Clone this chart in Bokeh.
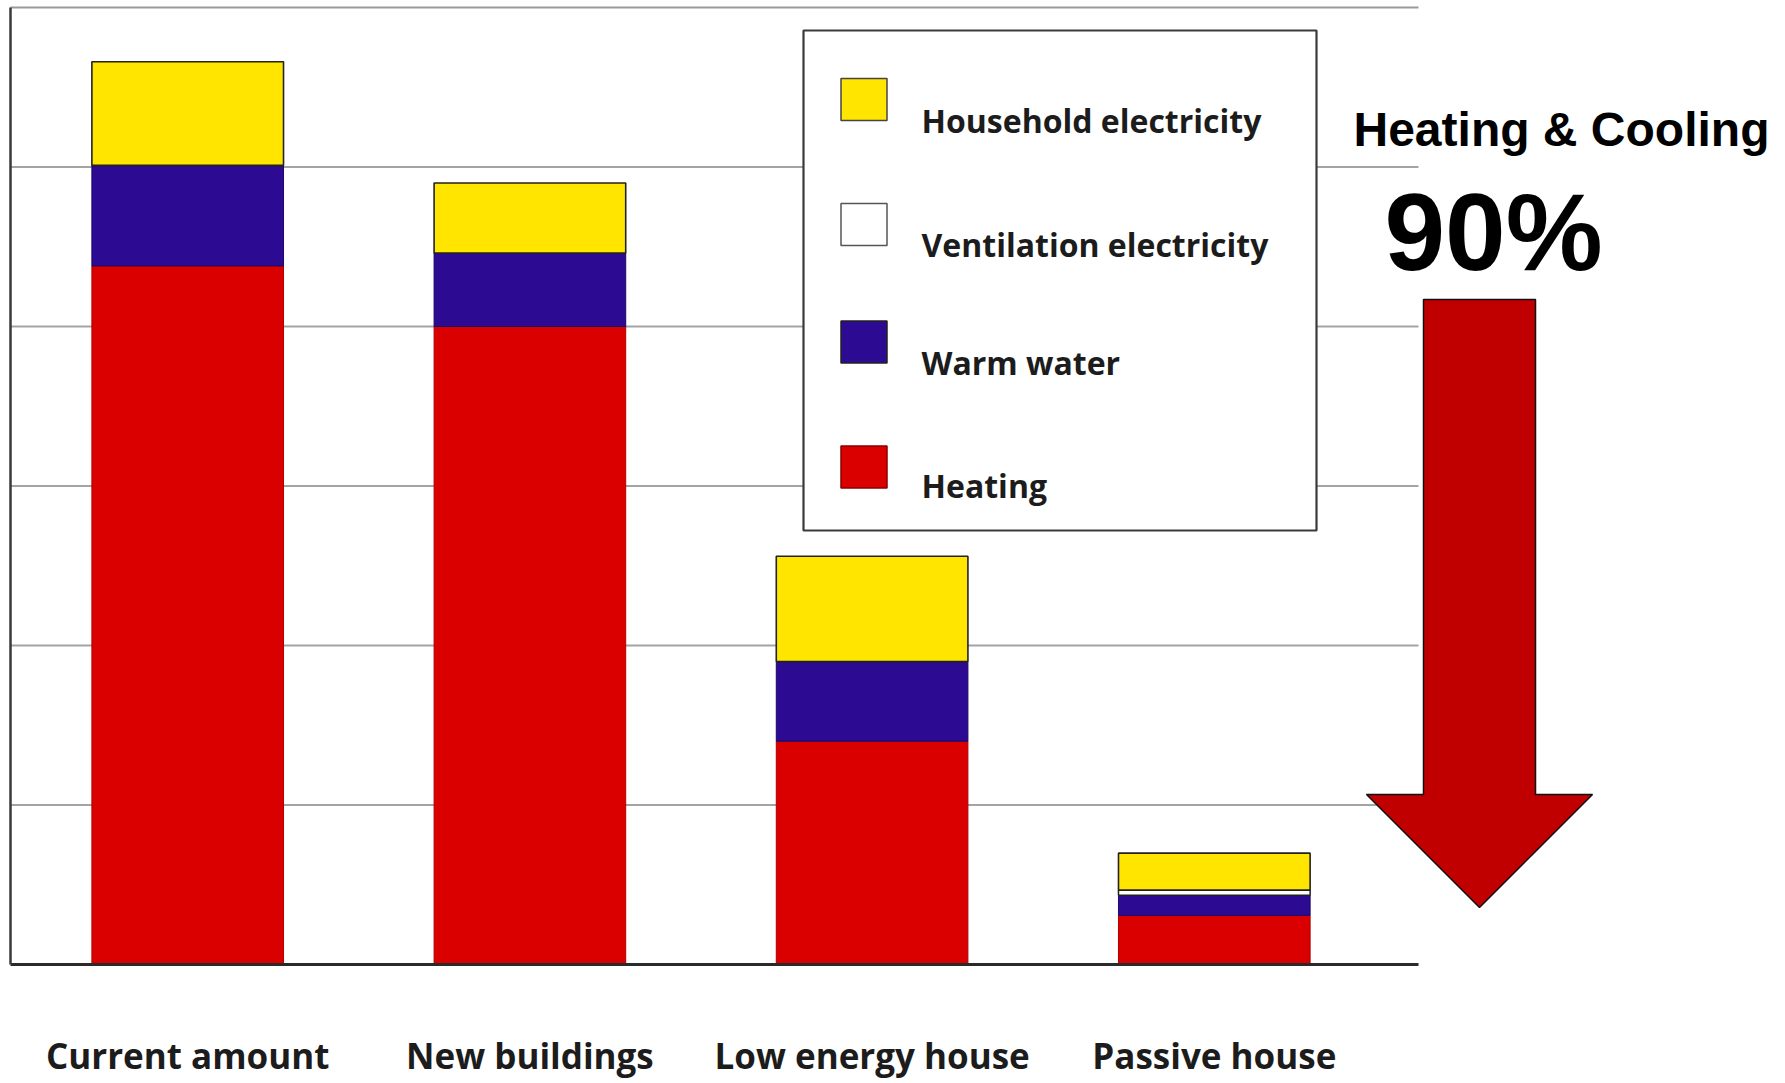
from bokeh.plotting import figure
from bokeh.models import ColumnDataSource, Range1d
from bokeh.core.properties import value
from bokeh.embed import file_html
from bokeh.resources import INLINE

# ---------------- data ----------------
categories = ["Current amount", "New buildings", "Low energy house", "Passive house"]
heating = [219.0, 200.0, 70.0, 15.4]
warm_water = [31.5, 23.0, 25.0, 6.3]
ventilation = [0.0, 0.0, 0.0, 1.6]
household = [32.5, 22.0, 33.0, 11.6]

legend_labels = ["Household electricity", "Ventilation electricity", "Warm water", "Heating"]
gridline_values = [50, 100, 150, 200, 250]
chart_top = 300
headline = "Heating & Cooling"
reduction = "90%"

# ---------------- styles ----------------
YELLOW = "#FFE500"
WHITE = "#FFFFFF"
BLUE = "#2C0A92"
RED = "#DB0000"
ARROW_RED = "#C00000"
TEXT = "#1c1c1c"

W, H = 1783, 1081
# mapping helpers: page pixel -> data coordinates (for layout of decorations)
CX0, CSTEP = 187.2, 342.2           # page x of first category, spacing per category
BASE_PY, PX_PER_UNIT = 964.0, 3.19  # page y of baseline, pixels per value unit


def X(px):
    return (px - CX0) / CSTEP


def Y(py):
    return (BASE_PY - py) / PX_PER_UNIT


# rendered text sits a bit below the requested alphabetic baseline; compensate
def TY(py, size, k):
    return Y(py - k * size)


p = figure(width=W, height=H, output_backend="svg", toolbar_location=None,
           x_range=Range1d(X(0), X(W)), y_range=Range1d(Y(H), Y(0)),
           x_axis_location=None, y_axis_location=None,
           min_border=0, min_border_left=0, min_border_right=0,
           min_border_top=0, min_border_bottom=0)
p.grid.visible = False
p.outline_line_color = None
p.background_fill_color = "white"
p.border_fill_color = "white"

chart_left, chart_right = X(10), X(1418)

# gridlines and chart border
n = len(gridline_values)
p.segment(x0=[chart_left] * n, y0=gridline_values, x1=[chart_right] * n, y1=gridline_values,
          line_color="#a4a4a4", line_width=2)
p.segment(x0=[chart_left], y0=[chart_top], x1=[chart_right], y1=[chart_top],
          line_color="#9a9a9a", line_width=2)

# stacked bars
src = ColumnDataSource(dict(x=list(range(len(categories))), heating=heating,
                            warm_water=warm_water, ventilation=ventilation,
                            household=household))
p.vbar_stack(["heating", "warm_water", "ventilation", "household"], x="x", width=0.56,
             source=src,
             fill_color=[RED, BLUE, WHITE, YELLOW],
             line_color=["#B00000", "#1c0668", "#222222", "#222222"],
             line_width=[1, 1, 1.5, 1.6])

# axes lines
p.segment(x0=[chart_left], y0=[0], x1=[chart_right], y1=[0], line_color="#2a2a2a", line_width=3)
p.segment(x0=[chart_left], y0=[0], x1=[chart_left], y1=[chart_top], line_color="#3a3a3a", line_width=2.5)

# legend (manual, to match the original layout)
p.quad(left=[X(803)], right=[X(1316)], top=[Y(30)], bottom=[Y(530)],
       fill_color="white", line_color="#3a3a3a", line_width=2.2)
sw_y = [Y(99), Y(224), Y(341.5), Y(466.5)]
p.rect(x=[X(863.5)] * 4, y=sw_y, width=46, height=42, width_units="screen",
       height_units="screen", fill_color=[YELLOW, WHITE, BLUE, RED],
       line_color=["#444444", "#555555", "#222222", "#8a0000"], line_width=1.5)
p.text(x=[X(921)] * 4, y=[TY(v, 32, 0.40) for v in (133, 257, 375, 498)], text=legend_labels,
       text_font=value("Open Sans"), text_font_style="bold", text_font_size="32px",
       text_baseline="alphabetic", text_align="left", text_color=TEXT)

# category labels
p.text(x=list(range(len(categories))), y=[TY(1069, 35, 0.40)] * len(categories), text=categories,
       text_font=value("Open Sans"), text_font_style="bold", text_font_size="35px",
       text_baseline="alphabetic", text_align="center", text_color=TEXT)

# annotation: heading, percentage, arrow
p.text(x=[X(1353)], y=[TY(147, 48, 0.365)], text=[headline], text_font=value("Liberation Sans"),
       text_font_style="bold", text_font_size="48px", text_baseline="alphabetic",
       text_align="left", text_color="black")
p.text(x=[X(1384)], y=[TY(272, 109, 0.37)], text=[reduction], text_font=value("Liberation Sans"),
       text_font_style="bold", text_font_size="109px", text_baseline="alphabetic",
       text_align="left", text_color="black")

arrow_px = [1423, 1535, 1535, 1592, 1479, 1366, 1423]
arrow_py = [299, 299, 794, 794, 907, 794, 794]
p.patch(x=[X(v) for v in arrow_px], y=[Y(v) for v in arrow_py],
        fill_color=ARROW_RED, line_color="#111111", line_width=1.5)

html = file_html(p, INLINE, title="Energy demand by building standard")
open("out.html", "w").write(html)
